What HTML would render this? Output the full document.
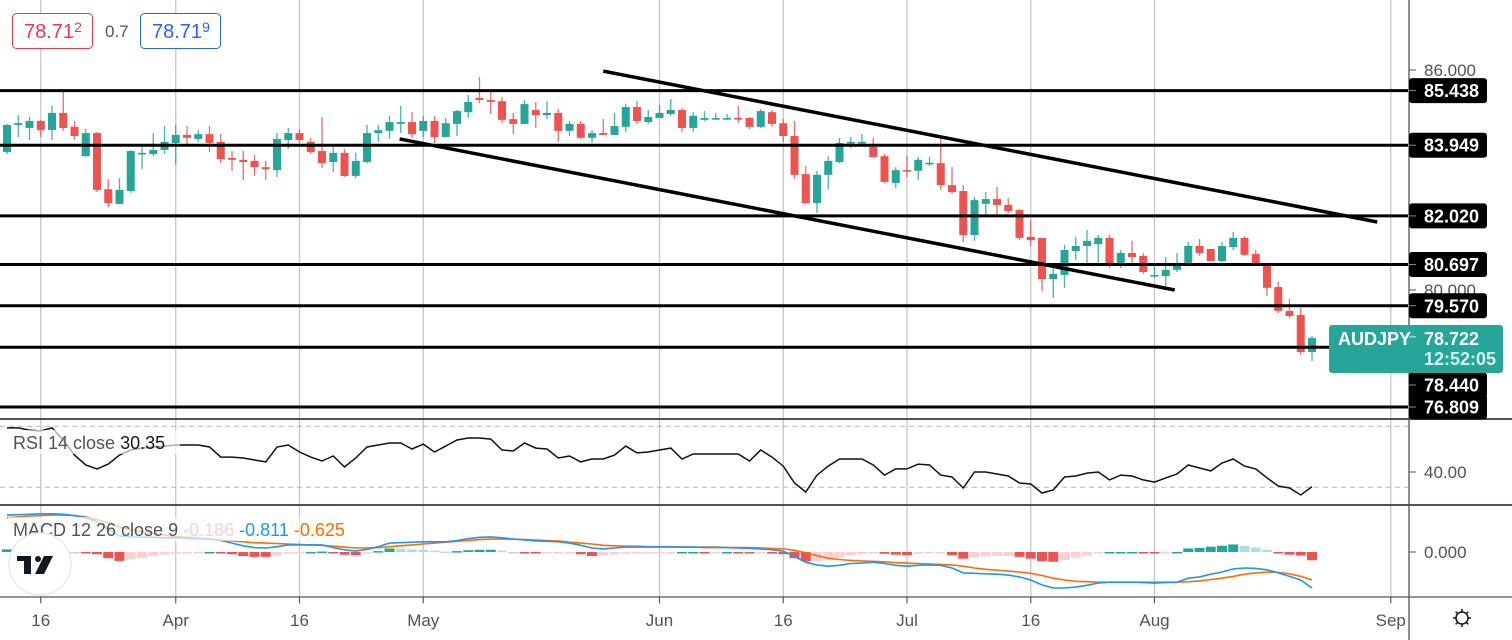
<!DOCTYPE html>
<html><head><meta charset="utf-8"><style>
html,body{margin:0;padding:0;background:#fff;}
svg{display:block;font-family:"Liberation Sans",sans-serif;}
</style></head><body>
<svg id="chart" width="1512" height="640" viewBox="0 0 1512 640" xmlns="http://www.w3.org/2000/svg"></svg>
<script>
// ---------- DATA ----------
const openP=[83.76,84.50,84.42,84.61,84.36,84.83,84.45,83.65,84.28,82.75,82.35,82.70,83.71,83.71,83.82,84.01,84.23,84.12,84.25,84.04,83.60,83.55,83.52,83.35,83.27,84.09,84.28,84.04,83.79,83.49,83.74,83.11,83.49,84.28,84.34,84.53,84.58,84.34,84.61,
84.17,84.53,84.85,85.24,85.18,85.15,84.66,84.53,84.91,84.77,84.83,84.34,84.53,84.15,84.28,84.23,84.45,84.99,84.58,84.69,84.80,84.91,84.42,84.64,84.66,84.66,84.69,84.69,84.45,84.85,84.55,
84.20,83.16,82.37,83.14,83.49,84.01,84.04,83.90,83.65,82.92,83.27,83.25,83.45,83.46,82.86,82.70,81.50,82.35,82.48,82.32,82.18,81.45,81.42,80.30,80.41,81.06,
81.20,81.25,81.42,80.68,81.01,80.93,80.38,80.38,80.55,80.74,81.20,81.12,80.79,81.17,81.42,80.98,80.71,80.08,79.43,79.32,78.31];
const highP=[84.53,84.77,84.72,84.64,85.02,85.40,84.61,84.39,84.31,83.03,83.05,83.82,83.90,84.28,84.47,84.50,84.47,84.36,84.47,84.25,83.79,83.79,83.68,83.52,84.28,84.42,84.39,84.15,84.72,83.90,83.85,83.74,84.50,84.50,84.75,85.02,84.85,84.75,84.75,
84.69,84.91,85.32,85.81,85.40,85.26,84.83,85.18,85.13,85.15,84.94,84.61,84.61,84.36,84.66,84.83,85.07,85.15,84.91,85.05,85.21,84.96,84.85,84.88,84.83,84.80,85.02,84.72,84.94,84.91,84.66,
84.61,83.38,83.25,83.65,84.15,84.17,84.25,84.15,83.71,83.35,83.65,83.63,83.63,84.15,83.35,82.86,82.54,82.67,82.81,82.51,82.21,81.91,81.42,80.65,81.23,81.45,
81.64,81.50,81.50,81.09,81.34,81.01,80.68,80.90,81.01,81.31,81.39,81.12,81.31,81.58,81.47,81.09,80.74,80.22,79.76,79.51,78.75];
const lowP=[83.71,84.17,84.09,84.17,84.09,84.34,84.09,83.63,82.67,82.26,82.34,82.65,83.30,83.65,83.71,83.41,83.98,84.04,83.76,83.46,83.25,83.00,83.11,83.00,83.08,83.85,84.01,83.71,83.33,83.22,83.08,83.05,83.46,84.04,84.12,84.28,84.15,84.17,84.01,
84.20,84.20,84.69,85.10,84.80,84.55,84.25,84.52,84.42,84.66,84.04,84.20,84.12,84.01,84.23,84.23,84.31,84.53,84.53,84.69,84.75,84.31,84.31,84.61,84.64,84.64,84.55,84.39,84.42,84.45,84.04,
83.03,82.35,82.10,82.75,83.46,83.87,83.95,83.60,82.92,82.78,83.08,83.00,83.38,82.73,82.62,81.31,81.34,82.05,82.05,82.10,81.36,81.20,79.97,79.78,80.06,80.82,
80.74,80.74,80.60,80.60,80.74,80.44,80.33,80.11,80.49,80.71,80.93,80.79,80.76,81.09,80.93,80.65,79.84,79.37,79.24,78.23,78.06];
const closeP=[84.50,84.55,84.61,84.36,84.83,84.42,84.20,84.28,82.73,82.37,82.73,83.79,83.74,83.82,84.04,84.23,84.15,84.25,84.01,83.57,83.55,83.49,83.35,83.30,84.12,84.28,84.09,83.76,83.46,83.74,83.11,83.52,84.28,84.36,84.58,84.58,84.25,84.61,84.17,
84.55,84.88,85.13,85.18,85.13,84.64,84.53,85.07,84.77,84.83,84.34,84.53,84.15,84.28,84.23,84.47,84.99,84.61,84.72,84.83,84.91,84.42,84.75,84.69,84.69,84.69,84.66,84.45,84.88,84.53,84.20,
83.14,82.37,83.14,83.52,84.01,84.04,84.04,83.63,82.95,83.27,83.25,83.55,83.47,82.86,82.67,81.50,82.45,82.48,82.32,82.15,81.42,81.36,80.30,80.44,81.09,81.20,
81.34,81.42,80.68,81.01,80.90,80.49,80.41,80.55,80.74,81.20,81.01,80.79,81.20,81.42,80.96,80.71,80.06,79.43,79.29,78.31,78.69];
const levels=[85.438,83.949,82.020,80.697,79.570,78.440,76.809];
const priceTicks=[86,80];
const lastPrice=78.722;
const rsiVals=[68.9,68.9,67.5,66.9,68.9,61.0,51.1,44.6,42.0,45.2,51.1,54.4,55.7,56.4,57.0,57.7,57.7,57.7,56.4,49.8,49.8,49.2,47.9,46.6,56.4,57.7,53.1,49.8,47.2,50.5,43.3,49.2,56.4,57.7,59.0,59.0,55.1,58.3,53.1,57.0,61.0,62.3,62.3,61.6,54.4,53.8,59.0,55.7,55.1,49.2,50.5,46.6,48.5,48.5,51.1,57.0,52.5,53.1,54.4,55.7,48.5,51.8,51.8,51.8,51.8,51.8,47.2,54.4,49.8,43.9,32.8,26.9,38.0,43.9,48.5,48.5,48.5,44.6,38.0,42.0,42.0,45.2,44.6,38.0,36.7,29.5,40.0,40.0,38.7,37.4,32.8,32.1,26.2,28.2,36.7,37.4,39.3,40.0,34.8,38.0,37.4,34.8,33.4,36.1,38.7,44.6,42.6,40.7,45.9,48.5,43.9,42.0,36.1,30.8,29.5,24.9,30.35];
const rsiTicks=[40];
const rsiBands=[70,30];
const macdVals=[0.83,0.84,0.85,0.86,0.86,0.85,0.82,0.77,0.68,0.52,0.36,0.34,0.33,0.33,0.32,0.32,0.31,0.30,0.29,0.26,0.20,0.14,0.10,0.09,0.12,0.16,0.16,0.16,0.16,0.10,0.05,0.02,0.06,0.12,0.20,0.21,0.22,0.23,0.23,0.23,0.26,0.30,0.33,0.34,0.32,0.29,0.27,0.25,0.24,0.23,0.20,0.15,0.09,0.07,0.09,0.11,0.11,0.11,0.11,0.11,0.11,0.11,0.10,0.10,0.10,0.09,0.08,0.07,0.05,0.02,-0.10,-0.23,-0.29,-0.32,-0.30,-0.26,-0.25,-0.23,-0.26,-0.30,-0.32,-0.30,-0.29,-0.30,-0.36,-0.47,-0.48,-0.49,-0.50,-0.52,-0.56,-0.63,-0.74,-0.81,-0.81,-0.79,-0.75,-0.70,-0.68,-0.68,-0.68,-0.69,-0.70,-0.69,-0.68,-0.59,-0.56,-0.50,-0.45,-0.38,-0.36,-0.37,-0.40,-0.47,-0.55,-0.63,-0.811];
const signalVals=[0.77,0.79,0.81,0.82,0.83,0.83,0.82,0.79,0.73,0.66,0.56,0.50,0.46,0.42,0.38,0.35,0.33,0.31,0.29,0.27,0.25,0.23,0.21,0.20,0.19,0.18,0.17,0.16,0.15,0.13,0.11,0.09,0.09,0.10,0.12,0.14,0.16,0.18,0.20,0.22,0.24,0.26,0.28,0.29,0.29,0.29,0.28,0.27,0.26,0.25,0.22,0.20,0.18,0.15,0.14,0.13,0.13,0.12,0.12,0.12,0.11,0.11,0.11,0.11,0.10,0.10,0.10,0.09,0.08,0.07,0.04,-0.02,-0.08,-0.14,-0.17,-0.19,-0.20,-0.21,-0.22,-0.24,-0.25,-0.26,-0.27,-0.28,-0.29,-0.32,-0.36,-0.39,-0.41,-0.43,-0.45,-0.48,-0.53,-0.59,-0.63,-0.66,-0.67,-0.68,-0.68,-0.68,-0.68,-0.68,-0.68,-0.68,-0.68,-0.67,-0.65,-0.62,-0.59,-0.55,-0.50,-0.47,-0.45,-0.46,-0.49,-0.55,-0.625];
const timeLabels=["16","Apr","16","May","Jun","16","Jul","16","Aug","Sep"];
const timeIdx=[3,15,26,37,58,69,80,91,102,123];
const trendUpper=[[53,85.97],[121.8,81.855]];
const trendLower=[[34.9,84.12],[103.8,80.0]];

// ---------- SCALES ----------
const xB=i=>7+i*11.25;
const yP=p=>70+(86-p)*36.667;
const yR=v=>472-(v-40)*1.525;
const yM=v=>552-v*44.4;

const svg=document.getElementById('chart');
const NS='http://www.w3.org/2000/svg';
function mk(tag,attrs,parent){const e=document.createElementNS(NS,tag);for(const k in attrs)e.setAttribute(k,attrs[k]);(parent||svg).appendChild(e);return e;}

const defs=mk('defs',{});
const c1=mk('clipPath',{id:'cpMain'},defs);mk('rect',{x:0,y:0,width:1408,height:418},c1);
const c2=mk('clipPath',{id:'cpRsi'},defs);mk('rect',{x:0,y:420,width:1408,height:84},c2);
const c3=mk('clipPath',{id:'cpMacd'},defs);mk('rect',{x:0,y:506,width:1408,height:90},c3);

timeIdx.forEach((ti,k)=>{
  const g=mk('line',{x1:xB(ti),x2:xB(ti),y1:0,y2:604,stroke:'#c5c7cf','stroke-width':1.3});
  
  
});

const main=mk('g',{'clip-path':'url(#cpMain)'});


for(let i=0;i<closeP.length;i++){
  const up=closeP[i]>=openP[i];const col=up?'#26a69a':'#ef5350';
  const x=xB(i);
  const w=mk('line',{x1:x,x2:x,y1:yP(highP[i]),y2:yP(lowP[i]),stroke:col,'stroke-width':1.3,opacity:0.85},main);
  
  
  const t=Math.min(yP(openP[i]),yP(closeP[i]));const h=Math.max(1.6,Math.abs(yP(openP[i])-yP(closeP[i])));
  const b=mk('rect',{x:x-4,y:t,width:8,height:h,fill:col},main);
  
  
}
levels.forEach(l=>{
  const ln=mk('line',{x1:0,x2:1408,y1:yP(l),y2:yP(l),stroke:'#000','stroke-width':3},main);
  
  
});
[trendUpper,trendLower].forEach((t,k)=>{
  const ln=mk('line',{x1:xB(t[0][0]),y1:yP(t[0][1]),x2:xB(t[1][0]),y2:yP(t[1][1]),stroke:'#000','stroke-width':3.5},main);
  
  
});

const rsiG=mk('g',{'clip-path':'url(#cpRsi)'});


rsiBands.forEach(v=>{
  const d=mk('line',{x1:0,x2:1408,y1:yR(v),y2:yR(v),stroke:'#b2b5be','stroke-width':1,'stroke-dasharray':'5 4'},rsiG);
  
  
});
const rsiLine=mk('polyline',{points:rsiVals.map((v,i)=>xB(i)+','+yR(v).toFixed(1)).join(' '),fill:'none',stroke:'#111','stroke-width':1.5},rsiG);



const mg=mk('g',{'clip-path':'url(#cpMacd)'});


let prevH=0;
for(let i=0;i<macdVals.length;i++){
  const h=macdVals[i]-signalVals[i];
  let col;
  if(h>=0)col=h>=prevH?'#26a69a':'#b2dfdb';else col=h<prevH?'#ef5350':'#ffcdd2';
  prevH=h;
  const y0=yM(0),y1=yM(h);
  const r=mk('rect',{x:xB(i)-5,y:Math.min(y0,y1),width:10,height:Math.max(1.5,Math.abs(y1-y0)),fill:col},mg);
  
  
}
const sigL=mk('polyline',{points:signalVals.map((v,i)=>xB(i)+','+yM(v).toFixed(1)).join(' '),fill:'none',stroke:'#ff6d00','stroke-width':1.6},mg);


const macL=mk('polyline',{points:macdVals.map((v,i)=>xB(i)+','+yM(v).toFixed(1)).join(' '),fill:'none',stroke:'#2196f3','stroke-width':1.6},mg);



// ---------- CHROME ----------
function tx(x,y,s,attrs,name,inter){const e=mk('text',Object.assign({x:x,y:y},attrs));e.textContent=s;return e;}
mk('line',{x1:0,x2:1512,y1:419,y2:419,stroke:'#50535e','stroke-width':2});
mk('line',{x1:0,x2:1512,y1:505,y2:505,stroke:'#50535e','stroke-width':2});
mk('line',{x1:0,x2:1512,y1:597,y2:597,stroke:'#50535e','stroke-width':1.3});
const ax=mk('line',{x1:1409,x2:1409,y1:0,y2:640,stroke:'#50535e','stroke-width':1.3});


priceTicks.forEach(p=>{mk('line',{x1:1409,x2:1416,y1:yP(p),y2:yP(p),stroke:'#50535e'});
 tx(1424,yP(p)+6,p.toFixed(3),{'font-size':17,fill:'#50535e'},'price-tick-label',false);});
const boxTop=325,boxBot=373;
levels.forEach(l=>{
  let y=yP(l);
  if(y>boxTop-12&&y<boxBot+12)y=boxBot+12;
  const r=mk('rect',{x:1409,y:y-12.5,width:78,height:25,rx:3,fill:'#000'});
  
  
  mk('line',{x1:1409,x2:1416,y1:y,y2:y,stroke:'#888'});
  tx(1424,y+6.5,l.toFixed(3),{'font-size':18,'font-weight':'bold',fill:'#fff'},'level-price-text',false);
});
const cp=mk('rect',{x:1329,y:325,width:174,height:48,rx:3,fill:'#26a69a'});


mk('line',{x1:1409,x2:1416,y1:yP(lastPrice),y2:yP(lastPrice),stroke:'#d0f0ec'});
tx(1338,345,'AUDJPY',{'font-size':18,'font-weight':'bold',fill:'#fff'},'symbol-label',false);
tx(1424,345,lastPrice.toFixed(3),{'font-size':18,'font-weight':'bold',fill:'#fff'},'current-price-text',false);
tx(1424,365,'12:52:05',{'font-size':18,'font-weight':'bold',fill:'#d7f0ec'},'bar-countdown',false);
rsiTicks.forEach(v=>{mk('line',{x1:1409,x2:1416,y1:yR(v),y2:yR(v),stroke:'#50535e'});
 tx(1424,yR(v)+6,v.toFixed(2),{'font-size':17,fill:'#50535e'},'rsi-tick-label',false);});
mk('line',{x1:1409,x2:1416,y1:yM(0),y2:yM(0),stroke:'#50535e'});
tx(1424,yM(0)+6,'0.000',{'font-size':17,fill:'#50535e'},'macd-tick-label',false);
// legends with translucent backdrops
mk('rect',{x:8,y:430,width:172,height:24,fill:'#fff','fill-opacity':0.65});
const rl=tx(13,449,'RSI 14 close ',{'font-size':18,fill:'#50535e'},'rsi-legend',true);
const rv=mk('tspan',{fill:'#131722'},rl);rv.textContent='30.35';
mk('rect',{x:8,y:517,width:382,height:24,fill:'#fff','fill-opacity':0.65});
const ml=tx(13,536,'MACD 12 26 close 9 ',{'font-size':18,fill:'#50535e'},'macd-legend',true);
[['-0.186','#ffcdd2'],['-0.811','#2196f3'],['-0.625','#ff6d00']].forEach(a=>{const t=mk('tspan',{fill:a[1]},ml);t.textContent=' '+a[0];});
timeIdx.forEach((ti,k)=>{mk('line',{x1:xB(ti),x2:xB(ti),y1:597,y2:603,stroke:'#50535e'});
 tx(xB(ti),626,timeLabels[k],{'font-size':17,fill:'#50535e','text-anchor':'middle'},'time-axis-label',false);});
const gear=mk('g',{transform:'translate(1462,618)',stroke:'#131722','stroke-width':1.5,fill:'none'});


mk('circle',{cx:0,cy:0,r:6},gear);
for(let a=0;a<8;a++){const r=a*Math.PI/4;mk('line',{x1:6*Math.cos(r),y1:6*Math.sin(r),x2:9*Math.cos(r),y2:9*Math.sin(r)},gear);}
const lg=mk('g',{});


mk('circle',{cx:40,cy:564,r:31,fill:'#fff',stroke:'#e8e9ed','stroke-width':1.5},lg);
mk('rect',{x:17,y:556,width:14,height:5,fill:'#131722'},lg);
mk('rect',{x:24,y:556,width:7,height:18,fill:'#131722'},lg);
mk('circle',{cx:38,cy:559,r:3,fill:'#131722'},lg);
mk('polygon',{points:'44,556 53,556 44,574 35,574',fill:'#131722'},lg);
const sb=mk('rect',{x:12.5,y:13.5,width:80,height:35,rx:4,fill:'#fff',stroke:'#f23645','stroke-width':1});


const st=tx(24,38,'78.71',{'font-size':20,fill:'#f23645'},'sell-price-text',true);
const s2=mk('tspan',{'font-size':14,dy:-6},st);s2.textContent='2';
tx(105,37,'0.7',{'font-size':17,fill:'#50535e'},'spread-value',false);
const bb=mk('rect',{x:140.5,y:13.5,width:80,height:35,rx:4,fill:'#fff',stroke:'#2962ff','stroke-width':1});


const bt=tx(152,38,'78.71',{'font-size':20,fill:'#2962ff'},'buy-price-text',true);
const b2=mk('tspan',{'font-size':14,dy:-6},bt);b2.textContent='9';
</script>
</body></html>
